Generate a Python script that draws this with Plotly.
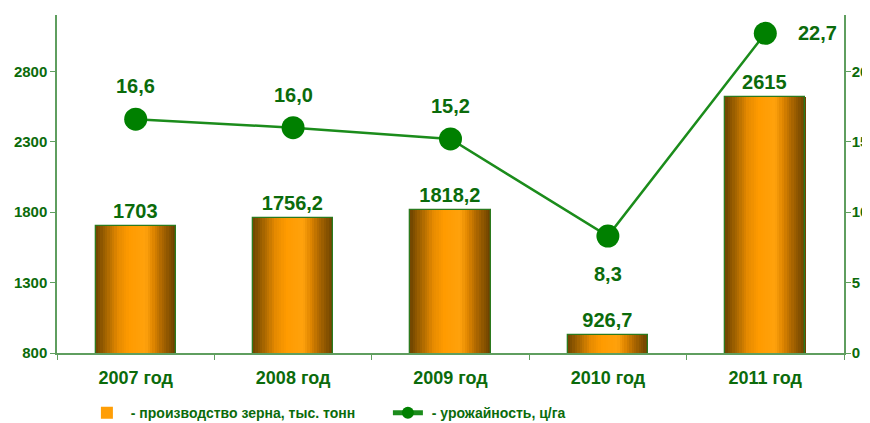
import plotly.graph_objects as go

categories = ["2007 год", "2008 год", "2009 год", "2010 год", "2011 год"]
production = [1703, 1756.2, 1818.2, 926.7, 2615]
yield_vals = [16.6, 16.0, 15.2, 8.3, 22.7]

bar_name = " - производство зерна, тыс. тонн"
line_name = " - урожайность, ц/га"

# styles
TXT = "#0b6b0b"
AXIS = "#5f9e5f"
FONT = "Liberation Sans, Arial, sans-serif"
BAR_W = 0.51
N_STRIPS = 34
grad_stops = [
    (0.0, (110, 68, 0)),
    (0.12, (160, 98, 0)),
    (0.28, (230, 138, 0)),
    (0.42, (255, 155, 0)),
    (0.62, (255, 162, 12)),
    (0.72, (222, 133, 0)),
    (0.82, (175, 104, 0)),
    (0.92, (135, 82, 0)),
    (1.0, (105, 64, 0)),
]
label_yshift = [33, 33, 33, -38, 0]
label_xshift = [0, 0, 0, 0, 52]


def grad(t):
    for (t0, c0), (t1, c1) in zip(grad_stops[:-1], grad_stops[1:]):
        if t0 <= t <= t1:
            f = (t - t0) / (t1 - t0) if t1 > t0 else 0
            return "rgb(%d,%d,%d)" % tuple(round(a + (b - a) * f) for a, b in zip(c0, c1))
    return "rgb(%d,%d,%d)" % grad_stops[-1][1]


def fmt(v, always_dec=False):
    if always_dec or v != int(v):
        return ("%.1f" % v).replace(".", ",")
    return str(int(v))


fig = go.Figure()

sw = BAR_W / N_STRIPS
legend_strip = N_STRIPS // 2
for k in range(N_STRIPS):
    t = (k + 0.5) / N_STRIPS
    fig.add_trace(go.Bar(
        x=categories, y=production,
        width=sw * 1.08, offset=-BAR_W / 2 + k * sw,
        marker=dict(color=grad(t), line=dict(width=0)),
        name=bar_name,
        showlegend=(k == legend_strip),
        legendrank=1,
        hoverinfo="skip",
    ))

# outline + value labels
fig.add_trace(go.Bar(
    x=categories, y=production, width=BAR_W, offset=-BAR_W / 2,
    marker=dict(color="rgba(0,0,0,0)", line=dict(color="#2b7a1e", width=1.3)),
    text=[fmt(v) for v in production], textposition="outside",
    textfont=dict(family=FONT, size=20, color=TXT, weight="bold"),
    cliponaxis=False, showlegend=False,
))

fig.add_trace(go.Scatter(
    x=categories, y=yield_vals, yaxis="y2", mode="lines+markers",
    name=line_name, legendrank=2,
    line=dict(color="#1b8c1b", width=2.5),
    marker=dict(color="#008000", size=23),
    cliponaxis=False,
))

for c, v, dy, dx in zip(categories, yield_vals, label_yshift, label_xshift):
    fig.add_annotation(
        x=c, y=v, yref="y2", text=fmt(v, True), showarrow=False,
        yshift=dy, xshift=dx,
        font=dict(family=FONT, size=20, color=TXT, weight="bold"),
    )

fig.update_layout(
    width=862, height=415,
    margin=dict(l=49, r=26, t=7, b=70, autoexpand=False),
    paper_bgcolor="white", plot_bgcolor="white",
    barmode="overlay", bargap=0,
    font=dict(family=FONT, color=TXT),
    showlegend=True,
    legend=dict(
        orientation="h", x=0.038, xanchor="left", y=-0.178, yanchor="middle",
        font=dict(family=FONT, size=14, color=TXT, weight="bold"),
        itemsizing="constant", itemwidth=30,
        entrywidth=256, entrywidthmode="pixels",
        traceorder="normal", bgcolor="rgba(0,0,0,0)",
    ),
    xaxis=dict(
        type="category", showline=True, linecolor=AXIS, linewidth=1.5,
        ticks="outside", ticklen=5, tickcolor=AXIS, tickson="boundaries",
        showgrid=False, zeroline=False, ticklabelstandoff=8,
        tickfont=dict(family=FONT, size=18, color=TXT, weight="bold"),
    ),
    yaxis=dict(
        range=[800, 3200], tick0=800, dtick=500, showline=True, linecolor=AXIS,
        linewidth=1.5, ticks="outside", ticklen=5, tickcolor=AXIS,
        showgrid=False, zeroline=False,
        tickfont=dict(family=FONT, size=15, color=TXT, weight="bold"),
    ),
    yaxis2=dict(
        range=[0, 24], tick0=0, dtick=5, overlaying="y", side="right",
        showline=True, linecolor=AXIS, linewidth=1.5, ticks="outside",
        ticklen=5, tickcolor=AXIS, showgrid=False, zeroline=False,
        ticklabelstandoff=-2,
        tickfont=dict(family=FONT, size=15, color=TXT, weight="bold"),
    ),
)

fig.write_html("out.html")
